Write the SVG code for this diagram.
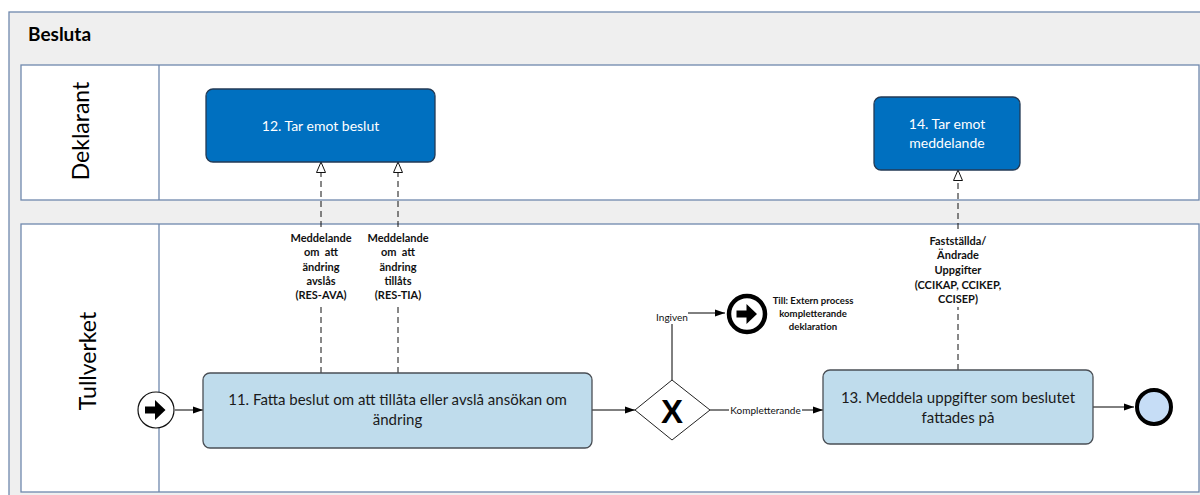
<svg xmlns="http://www.w3.org/2000/svg" width="1200" height="495" viewBox="0 0 1200 495">
<defs>
<style>
.lane{fill:#ffffff;stroke:#6f88ad;stroke-width:1.3}
.hdr{font-family:Lato,"Open Sans",sans-serif;font-size:23px;fill:#000}
.dark{fill:#0070c0;stroke:#233a55;stroke-width:1.3}
.light{fill:#bfdcec;stroke:#4a4f55;stroke-width:1.3}
.wt{font-family:Lato,"Open Sans",sans-serif;font-size:14px;fill:#ffffff;text-anchor:middle}
.bt{font-family:Lato,"Open Sans",sans-serif;font-size:15px;fill:#1a1a1a;text-anchor:middle}
.lbl{font-family:Lato,"Open Sans",sans-serif;font-size:11px;font-weight:bold;fill:#111;text-anchor:middle}
.lbs{font-family:Lato,"Open Sans",sans-serif;font-size:9.6px;font-weight:bold;fill:#111;text-anchor:middle}
.sml{font-family:Lato,"Open Sans",sans-serif;font-size:10px;fill:#111;text-anchor:middle}
.seq{fill:none;stroke:#000;stroke-width:1;marker-end:url(#fa)}
.dash{fill:none;stroke:#111;stroke-width:1;stroke-dasharray:6,4}
.msg{marker-end:url(#oa)}
</style>
<marker id="fa" viewBox="0 0 10 10" refX="10" refY="5" markerWidth="10" markerHeight="10" markerUnits="userSpaceOnUse" orient="auto">
<path d="M0,1.5 L10,5 L0,8.5 z" fill="#000"/>
</marker>
<marker id="oa" viewBox="0 0 12 14" refX="11" refY="7" markerWidth="12" markerHeight="14" markerUnits="userSpaceOnUse" orient="auto">
<path d="M0.5,2.5 L11,7 L0.5,11.5 z" fill="#fff" stroke="#111" stroke-width="1"/>
</marker>
</defs>
<rect x="0" y="0" width="1200" height="495" fill="#ffffff"/>
<g id="pool">
<rect x="9" y="12" width="1200" height="490" fill="#efefef" stroke="#6f88ad" stroke-width="1.3"/>
<text x="28" y="41" font-family="Lato,'Open Sans',sans-serif" font-size="19" font-weight="bold" fill="#000">Besluta</text>
</g>
<g id="lane-deklarant">
<rect class="lane" x="21" y="65" width="1178" height="135"/>
<line x1="159" y1="65" x2="159" y2="200" stroke="#6f88ad" stroke-width="1.3"/>
<text class="hdr" transform="translate(89,131) rotate(-90)" text-anchor="middle">Deklarant</text>
</g>
<g id="lane-tullverket">
<rect class="lane" x="21" y="224" width="1178" height="268"/>
<line x1="159" y1="224" x2="159" y2="492" stroke="#6f88ad" stroke-width="1.3"/>
<text class="hdr" transform="translate(96,361) rotate(-90)" text-anchor="middle" font-size="24">Tullverket</text>
</g>
<g id="connectors">
<line class="seq" x1="175" y1="410" x2="203" y2="410"/>
<line class="seq" x1="592" y1="410" x2="635" y2="410"/>
<path d="M672,380 V324" fill="none" stroke="#000" stroke-width="1"/>
<path class="seq" d="M688,313 H725"/>
<text class="sml" x="672" y="321">Ingiven</text>
<line x1="710" y1="410" x2="729" y2="410" stroke="#000" stroke-width="1"/>
<line class="seq" x1="802" y1="410" x2="823" y2="410"/>
<text class="sml" x="765.5" y="413.5">Kompletterande</text>
<line class="seq" x1="1093" y1="407" x2="1134" y2="407"/>
<line class="dash" x1="321" y1="373" x2="321" y2="303"/>
<line class="dash msg" x1="321" y1="227" x2="321" y2="162"/>
<line class="dash" x1="398" y1="373" x2="398" y2="303"/>
<line class="dash msg" x1="398" y1="227" x2="398" y2="162"/>
<line class="dash" x1="958" y1="370" x2="958" y2="307"/>
<line class="dash msg" x1="958" y1="229" x2="958" y2="170"/>
<g id="msg-labels">
<text class="lbl" x="321" y="242">Meddelande</text>
<text class="lbl" x="321" y="256" xml:space="preserve">om  att</text>
<text class="lbl" x="321" y="270.5">ändring</text>
<text class="lbl" x="321" y="284.5">avslås</text>
<text class="lbl" x="321" y="298.5">(RES-AVA)</text>
<text class="lbl" x="398" y="242">Meddelande</text>
<text class="lbl" x="398" y="256" xml:space="preserve">om  att</text>
<text class="lbl" x="398" y="270.5">ändring</text>
<text class="lbl" x="398" y="284.5">tillåts</text>
<text class="lbl" x="398" y="298.5">(RES-TIA)</text>
<text class="lbl" x="958" y="244.5">Fastställda/</text>
<text class="lbl" x="958" y="259">Ändrade</text>
<text class="lbl" x="958" y="274">Uppgifter</text>
<text class="lbl" x="958" y="288.5">(CCIKAP, CCIKEP,</text>
<text class="lbl" x="958" y="303">CCISEP)</text>
</g>
</g>
<g id="task12">
<rect class="dark" x="206" y="89" width="229" height="73" rx="7"/>
<text class="wt" x="320.5" y="131">12. Tar emot beslut</text>
</g>
<g id="task14">
<rect class="dark" x="874" y="97" width="146" height="73" rx="7"/>
<text class="wt" x="947" y="129">14. Tar emot</text>
<text class="wt" x="947" y="148">meddelande</text>
</g>
<g id="start">
<circle cx="156" cy="410" r="18" fill="#fff" stroke="#111" stroke-width="1.2"/>
<path d="M145,406.5 h10 v-6.5 l10.5,10 l-10.5,10 v-6.5 h-10 z" fill="#000"/>
</g>
<g id="task11">
<rect class="light" x="203" y="373" width="389" height="75" rx="7"/>
<text class="bt" x="397.5" y="405">11. Fatta beslut om att tillåta eller avslå ansökan om</text>
<text class="bt" x="397.5" y="425">ändring</text>
</g>
<g id="gateway">
<path d="M672,380 L710,410 L672,440 L635,410 z" fill="#fff" stroke="#222" stroke-width="1"/>
<text x="672" y="423" font-family="'Liberation Sans',Arial,sans-serif" font-size="33" font-weight="bold" fill="#000" text-anchor="middle">X</text>
</g>
<g id="link-event">
<circle cx="747" cy="314" r="18" fill="#fff" stroke="#000" stroke-width="4.5"/>
<path d="M736.5,310.5 h10 v-6.5 l10.5,10 l-10.5,10 v-6.5 h-10 z" fill="#000"/>
<text class="lbs" x="813" y="303.5">Till: Extern process</text>
<text class="lbs" x="813" y="316.5">kompletterande</text>
<text class="lbs" x="813" y="329.5">deklaration</text>
</g>
<g id="task13">
<rect class="light" x="823" y="370" width="270" height="74" rx="7"/>
<text class="bt" x="958" y="403">13. Meddela uppgifter som beslutet</text>
<text class="bt" x="958" y="423">fattades på</text>
</g>
<g id="end">
<circle cx="1154" cy="407" r="17" fill="#c6ddf6" stroke="#000" stroke-width="4"/>
</g>
</svg>
